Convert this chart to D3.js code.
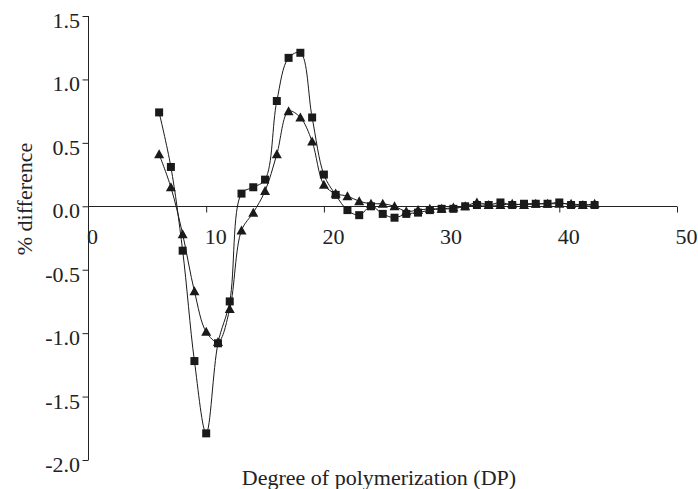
<!DOCTYPE html>
<html>
<head>
<meta charset="utf-8">
<script src="https://cdn.jsdelivr.net/npm/d3@7"></script>
<style>
  body { margin: 0; background: #fff; }
  svg text { font-family: "Liberation Serif", "Times New Roman", serif; fill: #222; }
</style>
</head>
<body>
<div id="chart"></div>
<script>
// degree of polymerization
var dp = [6, 7, 8, 9, 10, 11, 12, 13, 14, 15, 16, 17, 18, 19, 20, 21, 22, 23, 24,
	25, 26, 27, 28, 29, 30, 31, 32, 33, 34, 35, 36, 37, 38, 39, 40, 41, 42, 43];

// % difference, square markers
var squareSeries = [0.74, 0.31, -0.35, -1.22, -1.79, -1.08, -0.75, 0.10, 0.15, 0.21,
	0.83, 1.17, 1.21, 0.70, 0.25, 0.09, -0.03, -0.07, 0.00, -0.06, -0.09, -0.06, -0.05,
	-0.03, -0.02, -0.02, 0.00, 0.01, 0.01, 0.03, 0.01, 0.02, 0.02, 0.02, 0.03, 0.01, 0.01, 0.01];

// % difference, triangle markers
var triangleSeries = [0.41, 0.15, -0.22, -0.67, -0.99, -1.07, -0.81, -0.19, -0.05, 0.12,
	0.41, 0.75, 0.70, 0.51, 0.17, 0.10, 0.08, 0.04, 0.02, 0.02, 0.00, -0.04, -0.03,
	-0.02, -0.02, -0.01, 0.00, 0.03, 0.01, 0.01, 0.02, 0.01, 0.02, 0.02, 0.02, 0.02, 0.01, 0.02];

var xTicks = [0, 10, 20, 30, 40, 50];
var yTicks = [-2.0, -1.5, -1.0, -0.5, 0.0, 0.5, 1.0, 1.5];

var width = 698;
var height = 489;
var serif = "Liberation Serif";

var svg = d3.select("#chart")
	.append("svg")
	.attr("width", width)
	.attr("height", height);

var x = d3.scaleLinear().domain([0, 50]).range([88.5, 677]);
var y = d3.scaleLinear().domain([-2, 1.5]).range([460, 16]);

// y axis on the left, ticks outward
var yAxis = d3.axisLeft(y)
	.tickValues(yTicks)
	.tickSize(6)
	.tickFormat(function(d) { return d.toFixed(1); });

var gy = svg.append("g")
	.attr("transform", "translate(" + x(0) + ",0)")
	.call(yAxis)
	.attr("font-family", serif)
	.attr("font-size", 22);
gy.select(".domain").attr("d", "M0," + y(1.5) + "V" + y(-2)).attr("stroke", "#222");
gy.selectAll(".tick line").attr("stroke", "#222");
gy.selectAll(".tick text")
	.attr("dy", null)
	.attr("y", 11.5)
	.attr("x", -8.5)
	.attr("fill", "#222");

// x axis crosses at zero
var xAxis = d3.axisBottom(x)
	.tickValues(xTicks)
	.tickSize(6)
	.tickFormat(d3.format("d"));

var gx = svg.append("g")
	.attr("transform", "translate(0," + Math.round(y(0)) + ".5)")
	.call(xAxis)
	.attr("font-family", serif)
	.attr("font-size", 22);
gx.select(".domain").attr("d", "M" + x(0) + ",0H" + x(50)).attr("stroke", "#222");
gx.selectAll(".tick line").attr("stroke", "#222");
gx.selectAll(".tick line").filter(function(d) { return d === 0; }).remove();
gx.selectAll(".tick text")
	.attr("text-anchor", "start")
	.attr("x", -2)
	.attr("dy", null)
	.attr("y", 37)
	.attr("fill", "#222");

// axis titles
svg.append("text")
	.attr("x", 379)
	.attr("y", 485)
	.attr("text-anchor", "middle")
	.attr("font-size", 22)
	.text("Degree of polymerization (DP)");

svg.append("text")
	.attr("transform", "translate(32,199) rotate(-90)")
	.attr("text-anchor", "middle")
	.attr("font-size", 22)
	.text("% difference");

var line = d3.line()
	.x(function(d) { return x(d[0]); })
	.y(function(d) { return y(d[1]); })
	.curve(d3.curveCatmullRom.alpha(0.5));

var squares = dp.map(function(v, i) { return [v, squareSeries[i]]; });
var triangles = dp.map(function(v, i) { return [v, triangleSeries[i]]; });

svg.append("path")
	.datum(squares)
	.attr("fill", "none")
	.attr("stroke", "#1a1a1a")
	.attr("stroke-width", 1)
	.attr("d", line);

svg.append("path")
	.datum(triangles)
	.attr("fill", "none")
	.attr("stroke", "#1a1a1a")
	.attr("stroke-width", 1)
	.attr("d", line);

svg.selectAll("rect.sq")
	.data(squares)
	.enter()
	.append("rect")
	.classed("sq", true)
	.attr("x", function(d) { return x(d[0]) - 4; })
	.attr("y", function(d) { return y(d[1]) - 4; })
	.attr("width", 8)
	.attr("height", 8)
	.attr("fill", "#1a1a1a");

svg.selectAll("path.tri")
	.data(triangles)
	.enter()
	.append("path")
	.classed("tri", true)
	.attr("transform", function(d) { return "translate(" + x(d[0]) + "," + y(d[1]) + ")"; })
	.attr("d", "M0,-5L5,4L-5,4Z")
	.attr("fill", "#1a1a1a");
</script>
</body>
</html>
